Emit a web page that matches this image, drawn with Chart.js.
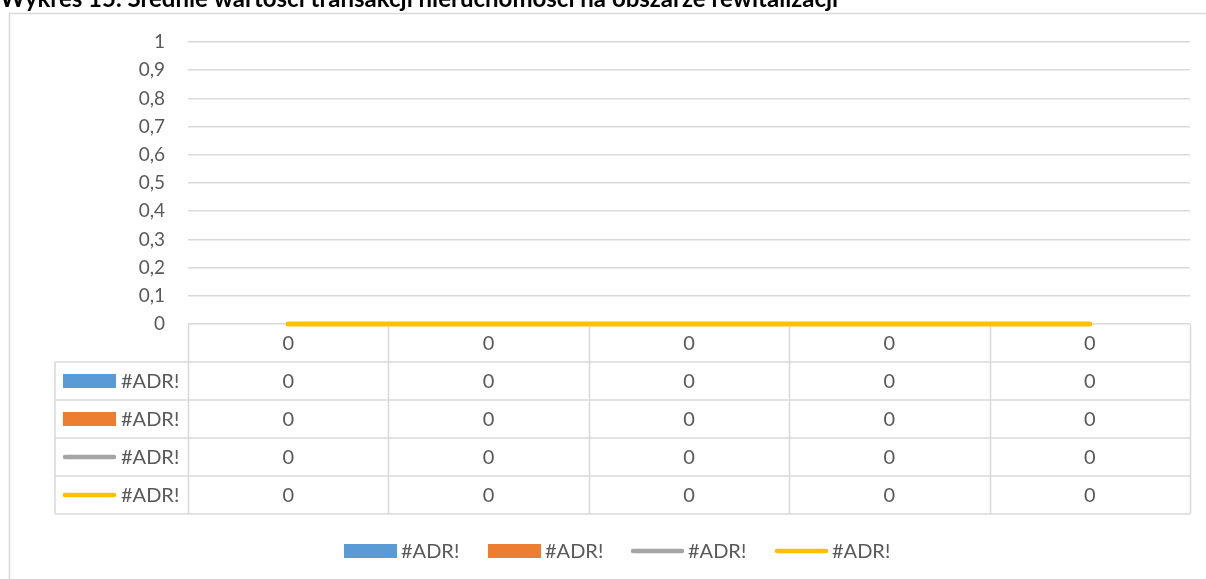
<!DOCTYPE html>
<html>
<head>
<meta charset="utf-8">
<script src="https://cdn.jsdelivr.net/npm/chart.js@4/dist/chart.umd.min.js"></script>
<style>
  html, body { margin: 0; padding: 0; background: #fff; }
  #wrap { width: 1206px; height: 579px; }
</style>
</head>
<body>
<div id="wrap"><canvas id="chart" width="1206" height="579"></canvas></div>
<script>
const TITLE = 'Wykres 15. Średnie wartości transakcji nieruchomości na obszarze rewitalizacji';
const categories = ['0', '0', '0', '0', '0'];
const seriesNames = ['#ADR!', '#ADR!', '#ADR!', '#ADR!'];
const seriesA = [0, 0, 0, 0, 0];
const seriesB = [0, 0, 0, 0, 0];
const seriesC = [0, 0, 0, 0, 0];
const seriesD = [0, 0, 0, 0, 0];

const FONT = 'Lato, "Open Sans", sans-serif';
const TEXT = '#595959';
const LINE = '#d9d9d9';
const ROW_H = 38;

const fmt = v => v === 0 || v === 1 ? String(v) : v.toFixed(1).replace('.', ',');

// legend key: filled box for bars, thick rounded stroke for lines
function drawKey(c, ds, x, y, w) {
    if (ds.type === 'bar') {
        c.fillStyle = ds.backgroundColor;
        c.fillRect(x, y - 7, w, 14);
    } else {
        c.strokeStyle = ds.borderColor;
        c.lineWidth = 4.5;
        c.lineCap = 'round';
        c.beginPath();
        c.moveTo(x + 2, y);
        c.lineTo(x + w - 2, y);
        c.stroke();
    }
}

const frame = {
    id: 'frame',
    beforeDraw(chart) {
        const c = chart.ctx;
        c.save();
        c.fillStyle = '#fff';
        c.fillRect(0, 0, chart.width, chart.height);
        c.strokeStyle = LINE;
        c.lineWidth = 1.5;
        c.strokeRect(9.5, 13.5, chart.width + 20, chart.height + 20);
        // heading sits above the frame and runs off the top edge
        c.fillStyle = '#000';
        c.font = 'bold 24px ' + FONT;
        c.textBaseline = 'alphabetic';
        c.textAlign = 'left';
        c.fillText(TITLE, 0, 7);
        c.restore();
    },
    // data table rules go under the lines
    beforeDatasetsDraw(chart) {
        const c = chart.ctx;
        const area = chart.chartArea;
        const rows = chart.data.datasets.length + 1;
        const colW = (area.right - area.left) / categories.length;
        const top = area.bottom;
        const left = 55;
        const bottom = top + ROW_H * rows;
        c.save();
        c.strokeStyle = LINE;
        c.lineWidth = 1.5;
        c.beginPath();
        for (let r = 1; r <= rows; r++) {
            c.moveTo(left, top + r * ROW_H);
            c.lineTo(area.right, top + r * ROW_H);
        }
        for (let i = 0; i <= categories.length; i++) {
            const px = Math.round(area.left + i * colW) + 0.5;
            c.moveTo(px, top);
            c.lineTo(px, bottom);
        }
        c.moveTo(left, top + ROW_H);
        c.lineTo(left, bottom);
        c.stroke();
        c.restore();
    },
    afterDraw(chart) {
        const c = chart.ctx;
        const x = chart.scales.x;
        const top = chart.chartArea.bottom;
        const sets = chart.data.datasets;
        c.save();
        c.fillStyle = TEXT;
        c.font = '20px ' + FONT;
        c.textAlign = 'center';
        c.textBaseline = 'middle';
        categories.forEach((cat, i) => {
            c.fillText(cat, x.getPixelForValue(i), top + ROW_H / 2 + 1);
        });
        sets.forEach((ds, r) => {
            const cy = top + ROW_H * (r + 1) + ROW_H / 2;
            ds.data.forEach((v, i) => {
                c.fillStyle = TEXT;
                c.fillText(fmt(v), x.getPixelForValue(i), cy + 1);
            });
            drawKey(c, ds, 63, cy, 53);
            c.fillStyle = TEXT;
            c.textAlign = 'left';
            c.fillText(ds.label, 121, cy + 1);
            c.textAlign = 'center';
        });

        // legend under the table
        const keys = [344, 488, 631, 775];
        const ly = 551;
        c.textAlign = 'left';
        sets.forEach((ds, i) => {
            drawKey(c, ds, keys[i], ly, 53);
            c.fillStyle = TEXT;
            c.fillText(ds.label, keys[i] + 57, ly + 1);
        });
        c.restore();
    }
};

new Chart(document.getElementById('chart'), {
    data: {
        labels: categories,
        datasets: [
            { type: 'bar', label: seriesNames[0], data: seriesA, backgroundColor: '#5b9bd5', order: 4 },
            { type: 'bar', label: seriesNames[1], data: seriesB, backgroundColor: '#ed7d31', order: 3 },
            { type: 'line', label: seriesNames[2], data: seriesC, borderColor: '#a5a5a5', borderWidth: 4,
              borderCapStyle: 'round', pointRadius: 0, clip: false, order: 2 },
            { type: 'line', label: seriesNames[3], data: seriesD, borderColor: '#ffc000', borderWidth: 5,
              borderCapStyle: 'round', pointRadius: 0, clip: false, order: 1 }
        ]
    },
    options: {
        responsive: false,
        animation: false,
        layout: { padding: { top: 42, right: 16, bottom: 255, left: 0 } },
        plugins: {
            legend: { display: false },
            tooltip: { enabled: false }
        },
        scales: {
            x: { display: false, offset: true },
            y: {
                min: 0,
                max: 1,
                afterFit(scale) { scale.width = 188; },
                border: { display: false },
                grid: { color: LINE, lineWidth: 1.5, drawTicks: false },
                ticks: {
                    stepSize: 0.1,
                    padding: 23,
                    color: TEXT,
                    font: { family: FONT, size: 19 },
                    callback: v => fmt(v)
                }
            }
        }
    },
    plugins: [frame]
});
</script>
</body>
</html>
